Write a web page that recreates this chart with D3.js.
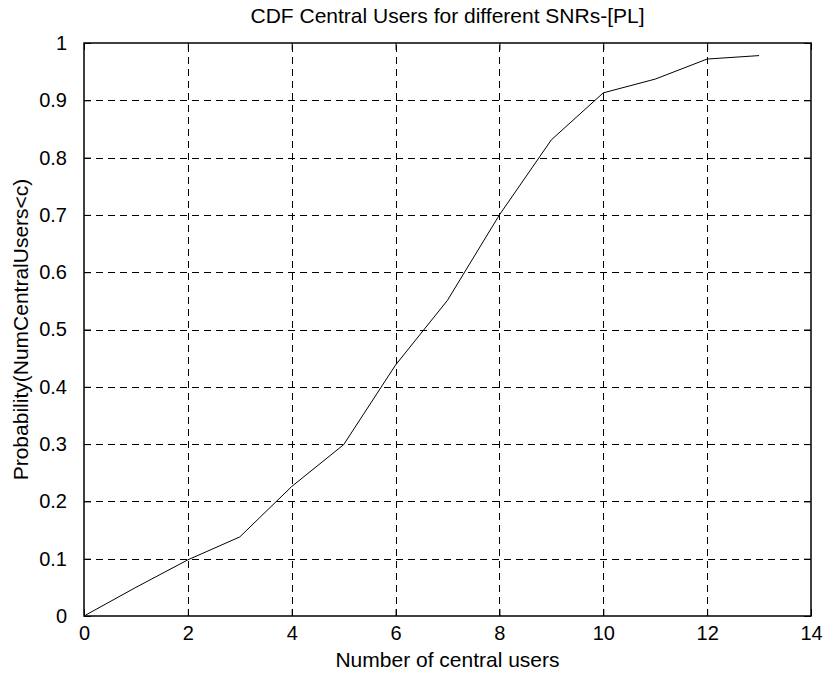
<!DOCTYPE html>
<html>
<head>
<meta charset="utf-8">
<script src="https://cdn.jsdelivr.net/npm/d3@7/dist/d3.min.js"></script>
<style>
  html, body { margin: 0; padding: 0; background: #fff; }
  svg { display: block; }
  text { font-family: "Liberation Sans", Arial, Helvetica, sans-serif; fill: #000; }
</style>
</head>
<body>
<script>
// Number of central users (c) and empirical CDF P(NumCentralUsers < c)
const users = [0, 1, 2, 3, 4, 5, 6, 7, 8, 9, 10, 11, 12, 13];
const cdf = [0, 0.05, 0.098, 0.138, 0.226, 0.299, 0.438, 0.551, 0.70, 0.831, 0.913, 0.937, 0.972, 0.978];

const xTicks = [0, 2, 4, 6, 8, 10, 12, 14];
const yTicks = [0, 0.1, 0.2, 0.3, 0.4, 0.5, 0.6, 0.7, 0.8, 0.9, 1];

const titleText = "CDF Central Users for different SNRs-[PL]";
const xLabelText = "Number of central users";
const yLabelText = "Probability(NumCentralUsers<c)";

const W = 826, H = 676;
const margin = { top: 43, right: 15, bottom: 60, left: 84 };
const iw = W - margin.left - margin.right;
const ih = H - margin.top - margin.bottom;
const fontSize = 21;
const tickFont = 20;

const svg = d3.select("body").append("svg")
  .attr("width", W).attr("height", H);

const g = svg.append("g")
  .attr("transform", `translate(${margin.left},${margin.top})`);

const x = d3.scaleLinear().domain([0, 14]).range([0, iw]);
const y = d3.scaleLinear().domain([0, 1]).range([ih, 0]);

// dashed grid
const grid = g.append("g").attr("stroke", "#000").attr("stroke-width", 1)
  .attr("stroke-dasharray", "7,5").attr("shape-rendering", "crispEdges");
grid.selectAll("line.vx").data(xTicks.filter(d => d > 0 && d < 14)).enter()
  .append("line")
  .attr("x1", d => Math.round(x(d)) + 0.5).attr("x2", d => Math.round(x(d)) + 0.5)
  .attr("y1", ih).attr("y2", 0);
grid.selectAll("line.hy").data(yTicks.filter(d => d > 0 && d < 1)).enter()
  .append("line")
  .attr("y1", d => Math.round(y(d)) + 0.5).attr("y2", d => Math.round(y(d)) + 0.5)
  .attr("x1", 0).attr("x2", iw);

// axes with inward ticks, mirrored on top/right
const fmtX = d3.format("d");
const fmtY = d => d === 0 ? "0" : d === 1 ? "1" : d3.format(".1f")(d);

function styleAxis(sel) {
  sel.select(".domain").remove();
  sel.selectAll(".tick line").attr("stroke", "#000").attr("stroke-width", 1);
  sel.selectAll("text").attr("font-size", tickFont)
    .attr("font-family", "'Liberation Sans', Arial, sans-serif").attr("fill", "#000");
}

g.append("g").attr("transform", `translate(0,${ih})`)
  .call(d3.axisBottom(x).tickValues(xTicks).tickFormat(fmtX).tickSizeInner(-7).tickPadding(10))
  .call(styleAxis);
g.append("g")
  .call(d3.axisTop(x).tickValues(xTicks).tickFormat("").tickSizeInner(-7))
  .call(styleAxis);
g.append("g")
  .call(d3.axisLeft(y).tickValues(yTicks).tickFormat(fmtY).tickSizeInner(-7).tickPadding(17))
  .call(styleAxis);
g.append("g").attr("transform", `translate(${iw},0)`)
  .call(d3.axisRight(y).tickValues(yTicks).tickFormat("").tickSizeInner(-7))
  .call(styleAxis);

// frame
g.append("rect").attr("x", 0).attr("y", 0).attr("width", iw).attr("height", ih)
  .attr("fill", "none").attr("stroke", "#000").attr("stroke-width", 1.5);

// CDF curve
const line = d3.line().x((d, i) => x(users[i])).y(d => y(d));
g.append("path").datum(cdf)
  .attr("d", line).attr("fill", "none").attr("stroke", "#000").attr("stroke-width", 1);

// title and labels
svg.append("text").attr("x", margin.left + iw / 2).attr("y", 23)
  .attr("text-anchor", "middle").attr("font-size", fontSize).text(titleText);
svg.append("text").attr("x", margin.left + iw / 2).attr("y", 667)
  .attr("text-anchor", "middle").attr("font-size", fontSize).text(xLabelText);
svg.append("text").attr("transform", `translate(28,${margin.top + ih / 2}) rotate(-90)`)
  .attr("text-anchor", "middle").attr("font-size", fontSize).text(yLabelText);
</script>
</body>
</html>
